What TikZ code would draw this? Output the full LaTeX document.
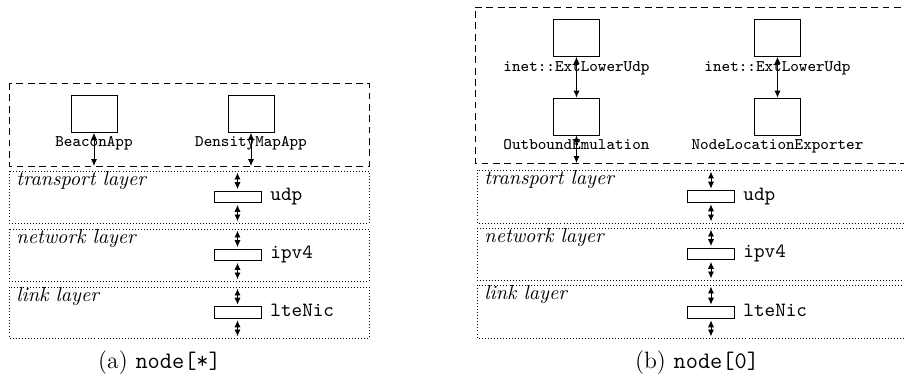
\documentclass[tikz,border=0pt]{standalone}
\usetikzlibrary{arrows.meta}
\begin{document}
\begin{tikzpicture}[x=0.4946pt,y=-0.4946pt,
  frame/.style={draw,line width=0.4pt,dash pattern=on 3.4pt off 2.2pt},
  layerrow/.style={draw,line width=0.4pt,dash pattern=on 0.4pt off 1.1pt},
  appbox/.style={draw,line width=0.4pt,minimum width=22.75pt,minimum height=18.3pt,inner sep=0pt},
  protobox/.style={draw,line width=0.4pt,minimum width=23.2pt,minimum height=5.8pt,inner sep=0pt},
  applabel/.style={anchor=base,inner sep=0pt,font=\footnotesize\ttfamily},
  protolabel/.style={anchor=base west,inner sep=0pt,font=\ttfamily},
  layerlabel/.style={anchor=base west,inner sep=0pt,font=\itshape},
  caplabel/.style={anchor=base,inner sep=0pt,font=\fontsize{11.7pt}{14pt}\selectfont},
  conn/.style={{Latex[length=3.4pt,width=3pt]}-{Latex[length=3.4pt,width=3pt]},line width=0.45pt},
  connr/.style={conn,shorten <=0.8pt,shorten >=0.8pt}]
\useasboundingbox (0,0) rectangle (904,383);

% ---------------- (a) node[*] ----------------
\draw[frame] (9,83) rectangle (369,166);
\draw[layerrow] (9,171) rectangle (369,223);
\draw[layerrow] (9,229) rectangle (369,281);
\draw[layerrow] (9,287) rectangle (369,338);
\node[layerlabel] (ltA) at (16,186) {transport layer};
\node[layerlabel] (lnA) at (16,244) {network layer};
\node[layerlabel] (llA) at (16,302) {link layer};

\node[appbox] (beacon) at (94,114) {};
\node[applabel] (beaconL) at (94,147) {BeaconApp};
\node[appbox] (density) at (251,114) {};
\node[applabel] (densityL) at (251,147) {DensityMapApp};
\coordinate (beaconB) at (94,166);
\coordinate (densityB) at (251,166);
\draw[conn] (beacon.south) -- (beaconB);
\draw[conn] (density.south) -- (densityB);

\node[protobox] (udpA) at (237.5,197) {};
\node[protobox] (ipA) at (237.5,255) {};
\node[protobox] (lteA) at (237.5,312.5) {};
\node[protolabel] (udpAL) at (270,201) {udp};
\node[protolabel] (ipAL) at (270,259) {ipv4};
\node[protolabel] (lteAL) at (270,316.5) {lteNic};
\coordinate (tA1) at (237.5,171);
\coordinate (tA2) at (237.5,223);
\coordinate (nA1) at (237.5,229);
\coordinate (nA2) at (237.5,281);
\coordinate (kA1) at (237.5,287);
\coordinate (kA2) at (237.5,338);
\draw[connr] (tA1) -- (udpA.north);
\draw[connr] (udpA.south) -- (tA2);
\draw[connr] (nA1) -- (ipA.north);
\draw[connr] (ipA.south) -- (nA2);
\draw[connr] (kA1) -- (lteA.north);
\draw[connr] (lteA.south) -- (kA2);

\node[caplabel] (capA) at (159.5,369) {(a) \texttt{node[*]}};

% ---------------- (b) node[0] ----------------
\draw[frame] (475,7) -- (930,7) (930,163) -- (475,163) -- (475,7);
\draw[layerrow] (477,170) rectangle (935,223);
\draw[layerrow] (477,228) rectangle (935,280);
\draw[layerrow] (477,285) rectangle (935,338);
\node[layerlabel] (ltB) at (484,185) {transport layer};
\node[layerlabel] (lnB) at (484,243) {network layer};
\node[layerlabel] (llB) at (484,300) {link layer};

\node[appbox] (ext1) at (576.5,38) {};
\node[applabel] (ext1L) at (576.5,72) {inet::ExtLowerUdp};
\node[appbox] (outb) at (576.5,116.5) {};
\node[applabel] (outbL) at (576.5,150) {OutboundEmulation};
\node[appbox] (ext2) at (777.5,38) {};
\node[applabel] (ext2L) at (777.5,72) {inet::ExtLowerUdp};
\node[appbox] (nloc) at (777.5,116.5) {};
\node[applabel] (nlocL) at (777.5,150) {NodeLocationExporter};
\coordinate (outbB) at (576.5,163);
\draw[conn] (ext1.south) -- (outb.north);
\draw[conn] (ext2.south) -- (nloc.north);
\draw[conn] (outb.south) -- (outbB);

\node[protobox] (udpB) at (711,196.5) {};
\node[protobox] (ipB) at (711,254) {};
\node[protobox] (lteB) at (711,312.5) {};
\node[protolabel] (udpBL) at (743,200.5) {udp};
\node[protolabel] (ipBL) at (743,258) {ipv4};
\node[protolabel] (lteBL) at (743,316.5) {lteNic};
\coordinate (tB1) at (711,170);
\coordinate (tB2) at (711,223);
\coordinate (nB1) at (711,228);
\coordinate (nB2) at (711,280);
\coordinate (kB1) at (711,285);
\coordinate (kB2) at (711,338);
\draw[connr] (tB1) -- (udpB.north);
\draw[connr] (udpB.south) -- (tB2);
\draw[connr] (nB1) -- (ipB.north);
\draw[connr] (ipB.south) -- (nB2);
\draw[connr] (kB1) -- (lteB.north);
\draw[connr] (lteB.south) -- (kB2);

\node[caplabel] (capB) at (697,369) {(b) \texttt{node[0]}};
\end{tikzpicture}
\end{document}
